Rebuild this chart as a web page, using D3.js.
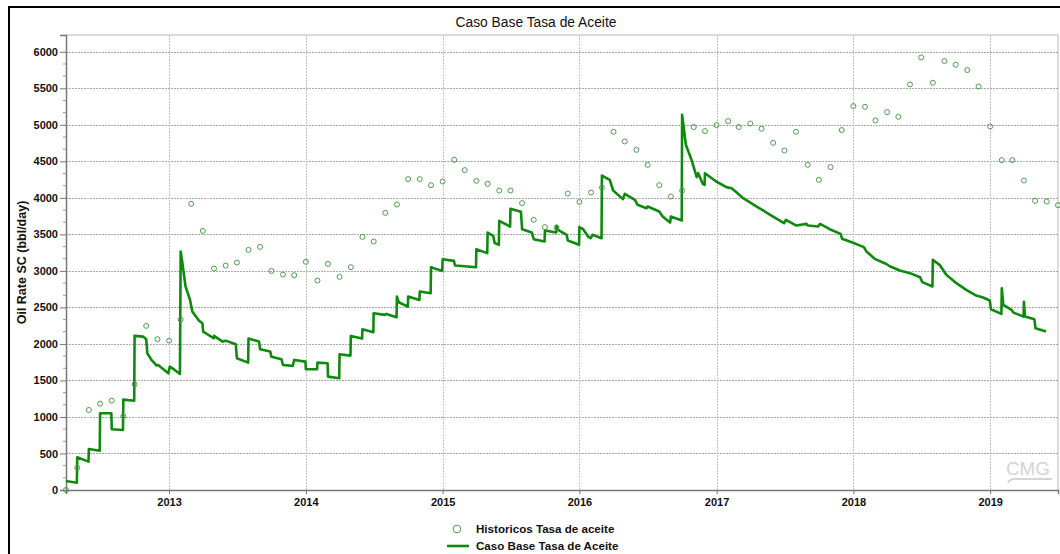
<!DOCTYPE html>
<html>
<head>
<meta charset="utf-8">
<script src="https://cdn.jsdelivr.net/npm/d3@7/dist/d3.min.js"></script>
<style>
  html, body { margin: 0; padding: 0; background: #fff; }
  svg { display: block; font-family: Arial, "Liberation Sans", sans-serif; }
</style>
</head>
<body>
<svg id="chart" width="1060" height="554"></svg>
<script>
// ---- data ----
const chartTitle = "Caso Base Tasa de Aceite";
const yAxisTitle = "Oil Rate SC (bbl/day)";
const legendLabels = ["Historicos Tasa de aceite", "Caso Base Tasa de Aceite"];
const yTicks = [0, 500, 1000, 1500, 2000, 2500, 3000, 3500, 4000, 4500, 5000, 5500, 6000];
const xTickYears = [2013, 2014, 2015, 2016, 2017, 2018, 2019];
const xStart = "2012-04-01";
const xEnd = "2019-07-01";

// historical monthly oil rate, April 2012 .. July 2019 (bbl/day)
const histRates = [
  0, 305, 1096, 1182, 1223, 1010, 1448, 2247, 2065,
  2045, 2333, 3918, 3548, 3032, 3073, 3114, 3288, 3329, 3000, 2950, 2941,
  3124, 2868, 3096, 2918, 3051, 3466, 3402, 3795, 3909, 4257, 4257, 4174,
  4224, 4521, 4380, 4233, 4192, 4100, 4100, 3928, 3699, 3599, 3594, 4059,
  3945, 4073, 4141, 4905, 4772, 4658, 4452, 4174, 4018, 4100, 4969, 4914,
  4996, 5051, 4969, 5018, 4946, 4754, 4648, 4905, 4452, 4247, 4421, 4928,
  5257, 5247, 5060, 5174, 5110, 5553, 5923, 5576, 5873, 5823, 5750, 5525,
  4977, 4517, 4517, 4238, 3959, 3950, 3900
];

// simulated base case oil rate
const simDates = [
  "2012-04-01","2012-04-30","2012-05-01","2012-05-31","2012-06-01","2012-06-30",
  "2012-07-01","2012-07-31","2012-08-01","2012-08-31","2012-09-01","2012-09-30",
  "2012-10-01","2012-10-24","2012-11-01","2012-11-04","2012-11-15","2012-11-29",
  "2012-12-03","2012-12-16","2012-12-30","2013-01-03","2013-01-16","2013-01-30",
  "2013-02-01","2013-02-05","2013-02-14","2013-02-26","2013-03-04","2013-03-22",
  "2013-03-31","2013-04-02","2013-04-30","2013-05-01","2013-05-24","2013-06-01",
  "2013-06-28","2013-07-01","2013-07-31","2013-08-01","2013-08-29","2013-09-01",
  "2013-09-28","2013-10-01","2013-10-28","2013-11-01","2013-11-27","2013-12-01",
  "2013-12-31","2014-01-01","2014-01-31","2014-02-01","2014-02-28","2014-03-01",
  "2014-03-31","2014-04-01","2014-04-30","2014-05-01","2014-05-31","2014-06-01",
  "2014-06-30","2014-07-01","2014-07-31","2014-08-04","2014-08-31","2014-09-01",
  "2014-09-06","2014-09-30","2014-10-01","2014-10-31","2014-11-01","2014-11-30",
  "2014-12-01","2014-12-31","2015-01-01","2015-01-31","2015-02-03","2015-03-01",
  "2015-03-31","2015-04-01","2015-04-30","2015-05-01","2015-05-16","2015-05-20",
  "2015-05-31","2015-06-01","2015-06-30","2015-07-01","2015-07-29","2015-08-01",
  "2015-08-27","2015-09-01","2015-09-30","2015-10-01","2015-10-31","2015-11-01",
  "2015-11-05","2015-11-28","2015-12-01","2015-12-31","2016-01-01","2016-01-11",
  "2016-01-24","2016-01-31","2016-02-05","2016-02-29","2016-03-01","2016-03-22",
  "2016-03-31","2016-04-26","2016-05-01","2016-05-28","2016-06-04","2016-06-28",
  "2016-07-01","2016-08-01","2016-08-10","2016-08-30","2016-09-01","2016-09-30",
  "2016-10-01","2016-10-11","2016-10-26","2016-11-09","2016-11-13","2016-11-25",
  "2016-11-30","2016-12-01","2016-12-31","2017-01-27","2017-02-10","2017-02-23",
  "2017-03-13","2017-04-18","2017-05-24","2017-06-30","2017-07-05","2017-08-02",
  "2017-08-29","2017-09-02","2017-09-29","2017-10-04","2017-10-30","2017-11-28",
  "2017-12-02","2017-12-31","2018-01-29","2018-02-05","2018-02-27","2018-03-30",
  "2018-04-08","2018-05-05","2018-06-01","2018-06-28","2018-07-04","2018-07-31",
  "2018-08-01","2018-08-19","2018-09-06","2018-10-03","2018-10-29","2018-11-25",
  "2018-12-13","2018-12-31","2019-01-03","2019-01-31","2019-02-01","2019-02-05",
  "2019-02-27","2019-03-04","2019-03-31","2019-04-01","2019-04-04","2019-04-29",
  "2019-05-02","2019-05-30"
];
const simRates = [
  123, 100, 448, 388, 562, 538,
  1051, 1051, 832, 822, 1237, 1223,
  2110, 2100, 2065, 1873, 1781, 1703,
  1712, 1658, 1598, 1689, 1644, 1589,
  3265, 3128, 2786, 2603, 2443, 2318,
  2284, 2169, 2078, 2110, 2032, 2045,
  1996, 1804, 1744, 2073, 2032, 1927,
  1895, 1826, 1790, 1712, 1699, 1781,
  1758, 1653, 1653, 1744, 1735, 1552,
  1530, 1859, 1840, 2110, 2073, 2201,
  2160, 2421, 2398, 2411, 2366, 2648,
  2571, 2511, 2648, 2603, 2717, 2694,
  3051, 3000, 3160, 3137, 3073, 3064,
  3051, 3297, 3243, 3525, 3480, 3380,
  3357, 3685, 3607, 3850, 3809, 3571,
  3525, 3434, 3402, 3552, 3525, 3617,
  3562, 3494, 3416, 3357, 3599, 3571,
  3470, 3448, 3494, 3448, 4306, 4247,
  4101, 3983, 4055, 3973, 3905, 3859,
  3881, 3813, 3745, 3662, 3745, 3690,
  5138, 4727, 4521, 4284, 4338, 4192,
  4178, 4338, 4224, 4147, 4133, 4078,
  3996, 3881, 3768, 3653, 3699, 3621,
  3644, 3621, 3608, 3644, 3571, 3507,
  3440, 3385, 3325, 3265, 3165, 3094,
  3064, 3005, 2969, 2914, 2846, 2786,
  3151, 3083, 2946, 2832, 2740, 2662,
  2635, 2594, 2475, 2411, 2763, 2535,
  2466, 2429, 2374, 2576, 2374, 2338,
  2215, 2169
];

// ---- layout ----
const parse = d3.timeParse("%Y-%m-%d");
const plot = { left: 66, right: 1058, top: 35, bottom: 490 };
const lineColor = "#0f8a0f";
const pointColor = "#4f9a4f";

const svg = d3.select("#chart");

// outer black frame
svg.append("rect")
  .attr("x", 9).attr("y", 7)
  .attr("width", 1080).attr("height", 600)
  .attr("fill", "none").attr("stroke", "#000").attr("stroke-width", 2);

const x = d3.scaleTime()
  .domain([parse(xStart), parse(xEnd)])
  .range([plot.left, plot.right]);
const y = d3.scaleLinear()
  .domain([0, 6230])
  .range([plot.bottom, plot.top]);

// title
svg.append("text")
  .attr("x", 536).attr("y", 27)
  .attr("text-anchor", "middle")
  .attr("font-size", 13.8).attr("fill", "#111")
  .text(chartTitle);

// plot frame (top and right edges)
svg.append("path")
  .attr("d", `M${plot.left},${plot.top}H${plot.right}V${plot.bottom}`)
  .attr("fill", "none").attr("stroke", "#d0d0d0").attr("stroke-width", 1.5);

// grid
const yearDates = xTickYears.map(yr => new Date(yr, 0, 1));
svg.append("g").selectAll("line").data(yTicks.filter(v => v > 0)).join("line")
  .attr("x1", plot.left).attr("x2", plot.right)
  .attr("y1", d => Math.round(y(d)) + 0.5).attr("y2", d => Math.round(y(d)) + 0.5)
  .attr("stroke", "#a8a8a8").attr("stroke-dasharray", "2,1").attr("stroke-width", 1);
svg.append("g").selectAll("line").data(yearDates).join("line")
  .attr("x1", d => Math.round(x(d)) + 0.5).attr("x2", d => Math.round(x(d)) + 0.5)
  .attr("y1", plot.top).attr("y2", plot.bottom)
  .attr("stroke", "#c4c4c4").attr("stroke-dasharray", "2,1").attr("stroke-width", 1);

// y axis
const yAxis = d3.axisLeft(y).tickValues(yTicks).tickSize(6).tickPadding(2).tickFormat(d3.format("d"));
const gy = svg.append("g").attr("transform", `translate(${plot.left},0)`).call(yAxis);
gy.select(".domain").attr("stroke", "#777").attr("stroke-width", 1.5);
gy.selectAll(".tick line").attr("stroke", "#777");
gy.selectAll(".tick text")
  .attr("font-family", "Arial, 'Liberation Sans', sans-serif")
  .attr("font-size", 11).attr("font-weight", "bold").attr("fill", "#111");
// minor ticks
const minor = d3.range(0, 6001, 500 / 3).filter(v => yTicks.indexOf(Math.round(v)) < 0);
svg.append("g").selectAll("line").data(minor).join("line")
  .attr("x1", plot.left - 3).attr("x2", plot.left)
  .attr("y1", d => y(d)).attr("y2", d => y(d))
  .attr("stroke", "#999");

// x axis
const xAxis = d3.axisBottom(x).tickValues(yearDates).tickSize(4).tickPadding(4).tickFormat(d3.timeFormat("%Y"));
const gx = svg.append("g").attr("transform", `translate(0,${plot.bottom})`).call(xAxis);
gx.select(".domain").attr("stroke", "#777").attr("stroke-width", 1.5);
gx.selectAll(".tick line").attr("stroke", "#777");
gx.selectAll(".tick text")
  .attr("font-family", "Arial, 'Liberation Sans', sans-serif")
  .attr("font-size", 11).attr("font-weight", "bold").attr("fill", "#111");

// y axis title
svg.append("text")
  .attr("transform", `translate(26,${(plot.top + plot.bottom) / 2}) rotate(-90)`)
  .attr("text-anchor", "middle")
  .attr("font-size", 12.5).attr("font-weight", "bold").attr("fill", "#111")
  .text(yAxisTitle);

// CMG watermark
svg.append("text")
  .attr("x", 1028).attr("y", 475)
  .attr("text-anchor", "middle")
  .attr("font-size", 19).attr("fill", "#d4d4d4")
  .attr("textLength", 44).attr("lengthAdjust", "spacingAndGlyphs")
  .text("CMG");
svg.append("path")
  .attr("d", "M1008,483 Q1010,478 1018,479 L1052,479")
  .attr("fill", "none").attr("stroke", "#d4d4d4").attr("stroke-width", 2);

// simulated line
const simData = simDates.map((d, i) => ({ date: parse(d), value: simRates[i] }));
const line = d3.line().x(d => x(d.date)).y(d => y(d.value));
svg.append("path")
  .datum(simData)
  .attr("d", line)
  .attr("fill", "none")
  .attr("stroke", lineColor)
  .attr("stroke-width", 2.6)
  .attr("stroke-linejoin", "round");

// historical points
const histDates = d3.timeMonth.range(parse(xStart), d3.timeMonth.offset(parse(xEnd), 1));
const histData = histDates.map((d, i) => ({ date: d, value: histRates[i] }));
svg.append("g").selectAll("circle").data(histData).join("circle")
  .attr("cx", d => x(d.date)).attr("cy", d => y(d.value))
  .attr("r", 2.5)
  .attr("fill", "none").attr("stroke", pointColor).attr("stroke-width", 1);

// legend
const lg = svg.append("g");
lg.append("circle").attr("cx", 457).attr("cy", 529).attr("r", 3.8)
  .attr("fill", "none").attr("stroke", pointColor).attr("stroke-width", 1);
lg.append("text").attr("x", 476).attr("y", 533)
  .attr("font-size", 11.6).attr("font-weight", "bold").attr("fill", "#111")
  .text(legendLabels[0]);
lg.append("line").attr("x1", 447).attr("x2", 469).attr("y1", 546).attr("y2", 546)
  .attr("stroke", lineColor).attr("stroke-width", 2.6);
lg.append("text").attr("x", 476).attr("y", 550)
  .attr("font-size", 11.6).attr("font-weight", "bold").attr("fill", "#111")
  .text(legendLabels[1]);
</script>
</body>
</html>
